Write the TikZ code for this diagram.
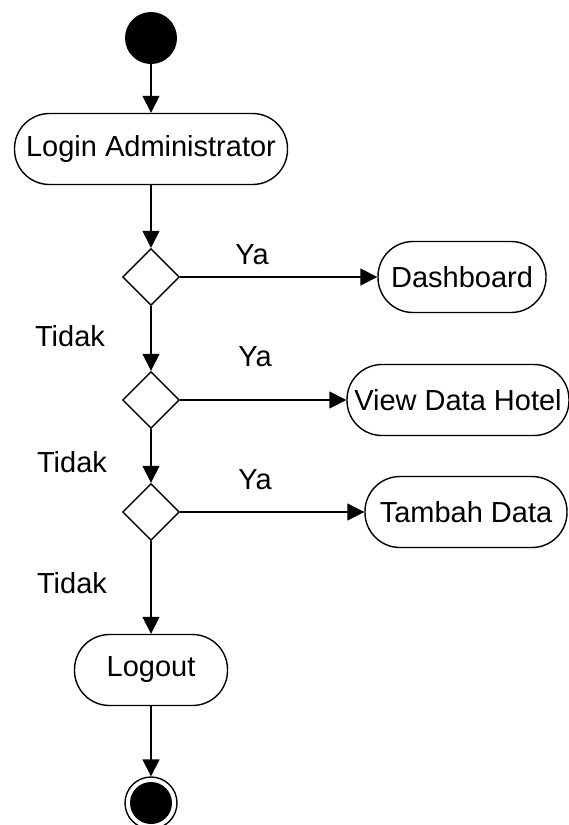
\documentclass[tikz,border=0pt]{standalone}
\usepackage{fontspec}
\setmainfont{Liberation Sans}
\usetikzlibrary{shapes.geometric,arrows.meta}
\tikzset{
  activity/.style={rectangle, draw, line width=1.4pt, rounded corners=35pt, minimum height=71pt, inner sep=0pt},
  decision/.style={diamond, draw, line width=1.4pt, minimum width=57pt, minimum height=57pt, inner sep=0pt},
  flow/.style={-{Triangle[width=17pt,length=17pt]}, line width=1.6pt},
  lbl/.style={inner sep=0pt}
}
\begin{document}
\begin{tikzpicture}[x=1pt, y=-1pt, font=\fontsize{29}{34}\selectfont]
  \useasboundingbox (0,0) rectangle (569,825);
  \node[circle, fill=black, minimum size=52pt, inner sep=0pt] (start) at (151,38) {};
  \node[activity, minimum width=273pt] (login) at (151,149) {Login Administrator};
  \node[decision] (d1) at (151,277) {};
  \node[activity, minimum width=168pt] (dash) at (462,277) {Dashboard};
  \node[decision] (d2) at (151,400) {};
  \node[activity, minimum width=222pt] (view) at (458,400) {View Data Hotel};
  \node[decision] (d3) at (151,512) {};
  \node[activity, minimum width=202pt] (tambah) at (466,512) {Tambah Data};
  \node[activity, minimum width=153pt] (logout) at (151,670) {Logout};
  \node[circle, draw, line width=1.4pt, minimum size=52pt, inner sep=0pt] (end) at (151,803) {};
  \node[circle, fill=black, minimum size=42pt, inner sep=0pt] (endfill) at (end.center) {};
  \node[lbl] (ya1) at (252,255) {Ya};
  \node[lbl] (ya2) at (255,357) {Ya};
  \node[lbl] (ya3) at (255,480) {Ya};
  \node[lbl] (tidak1) at (70,336) {Tidak};
  \node[lbl] (tidak2) at (72,462) {Tidak};
  \node[lbl] (tidak3) at (72,583) {Tidak};
  \draw[flow] (start) -- (login);
  \draw[flow] (login) -- (d1);
  \draw[flow] (d1) -- (dash);
  \draw[flow] (d1) -- (d2);
  \draw[flow] (d2) -- (view);
  \draw[flow] (d2) -- (d3);
  \draw[flow] (d3) -- (tambah);
  \draw[flow] (d3) -- (logout);
  \draw[flow] (logout) -- (end);
\end{tikzpicture}
\end{document}
